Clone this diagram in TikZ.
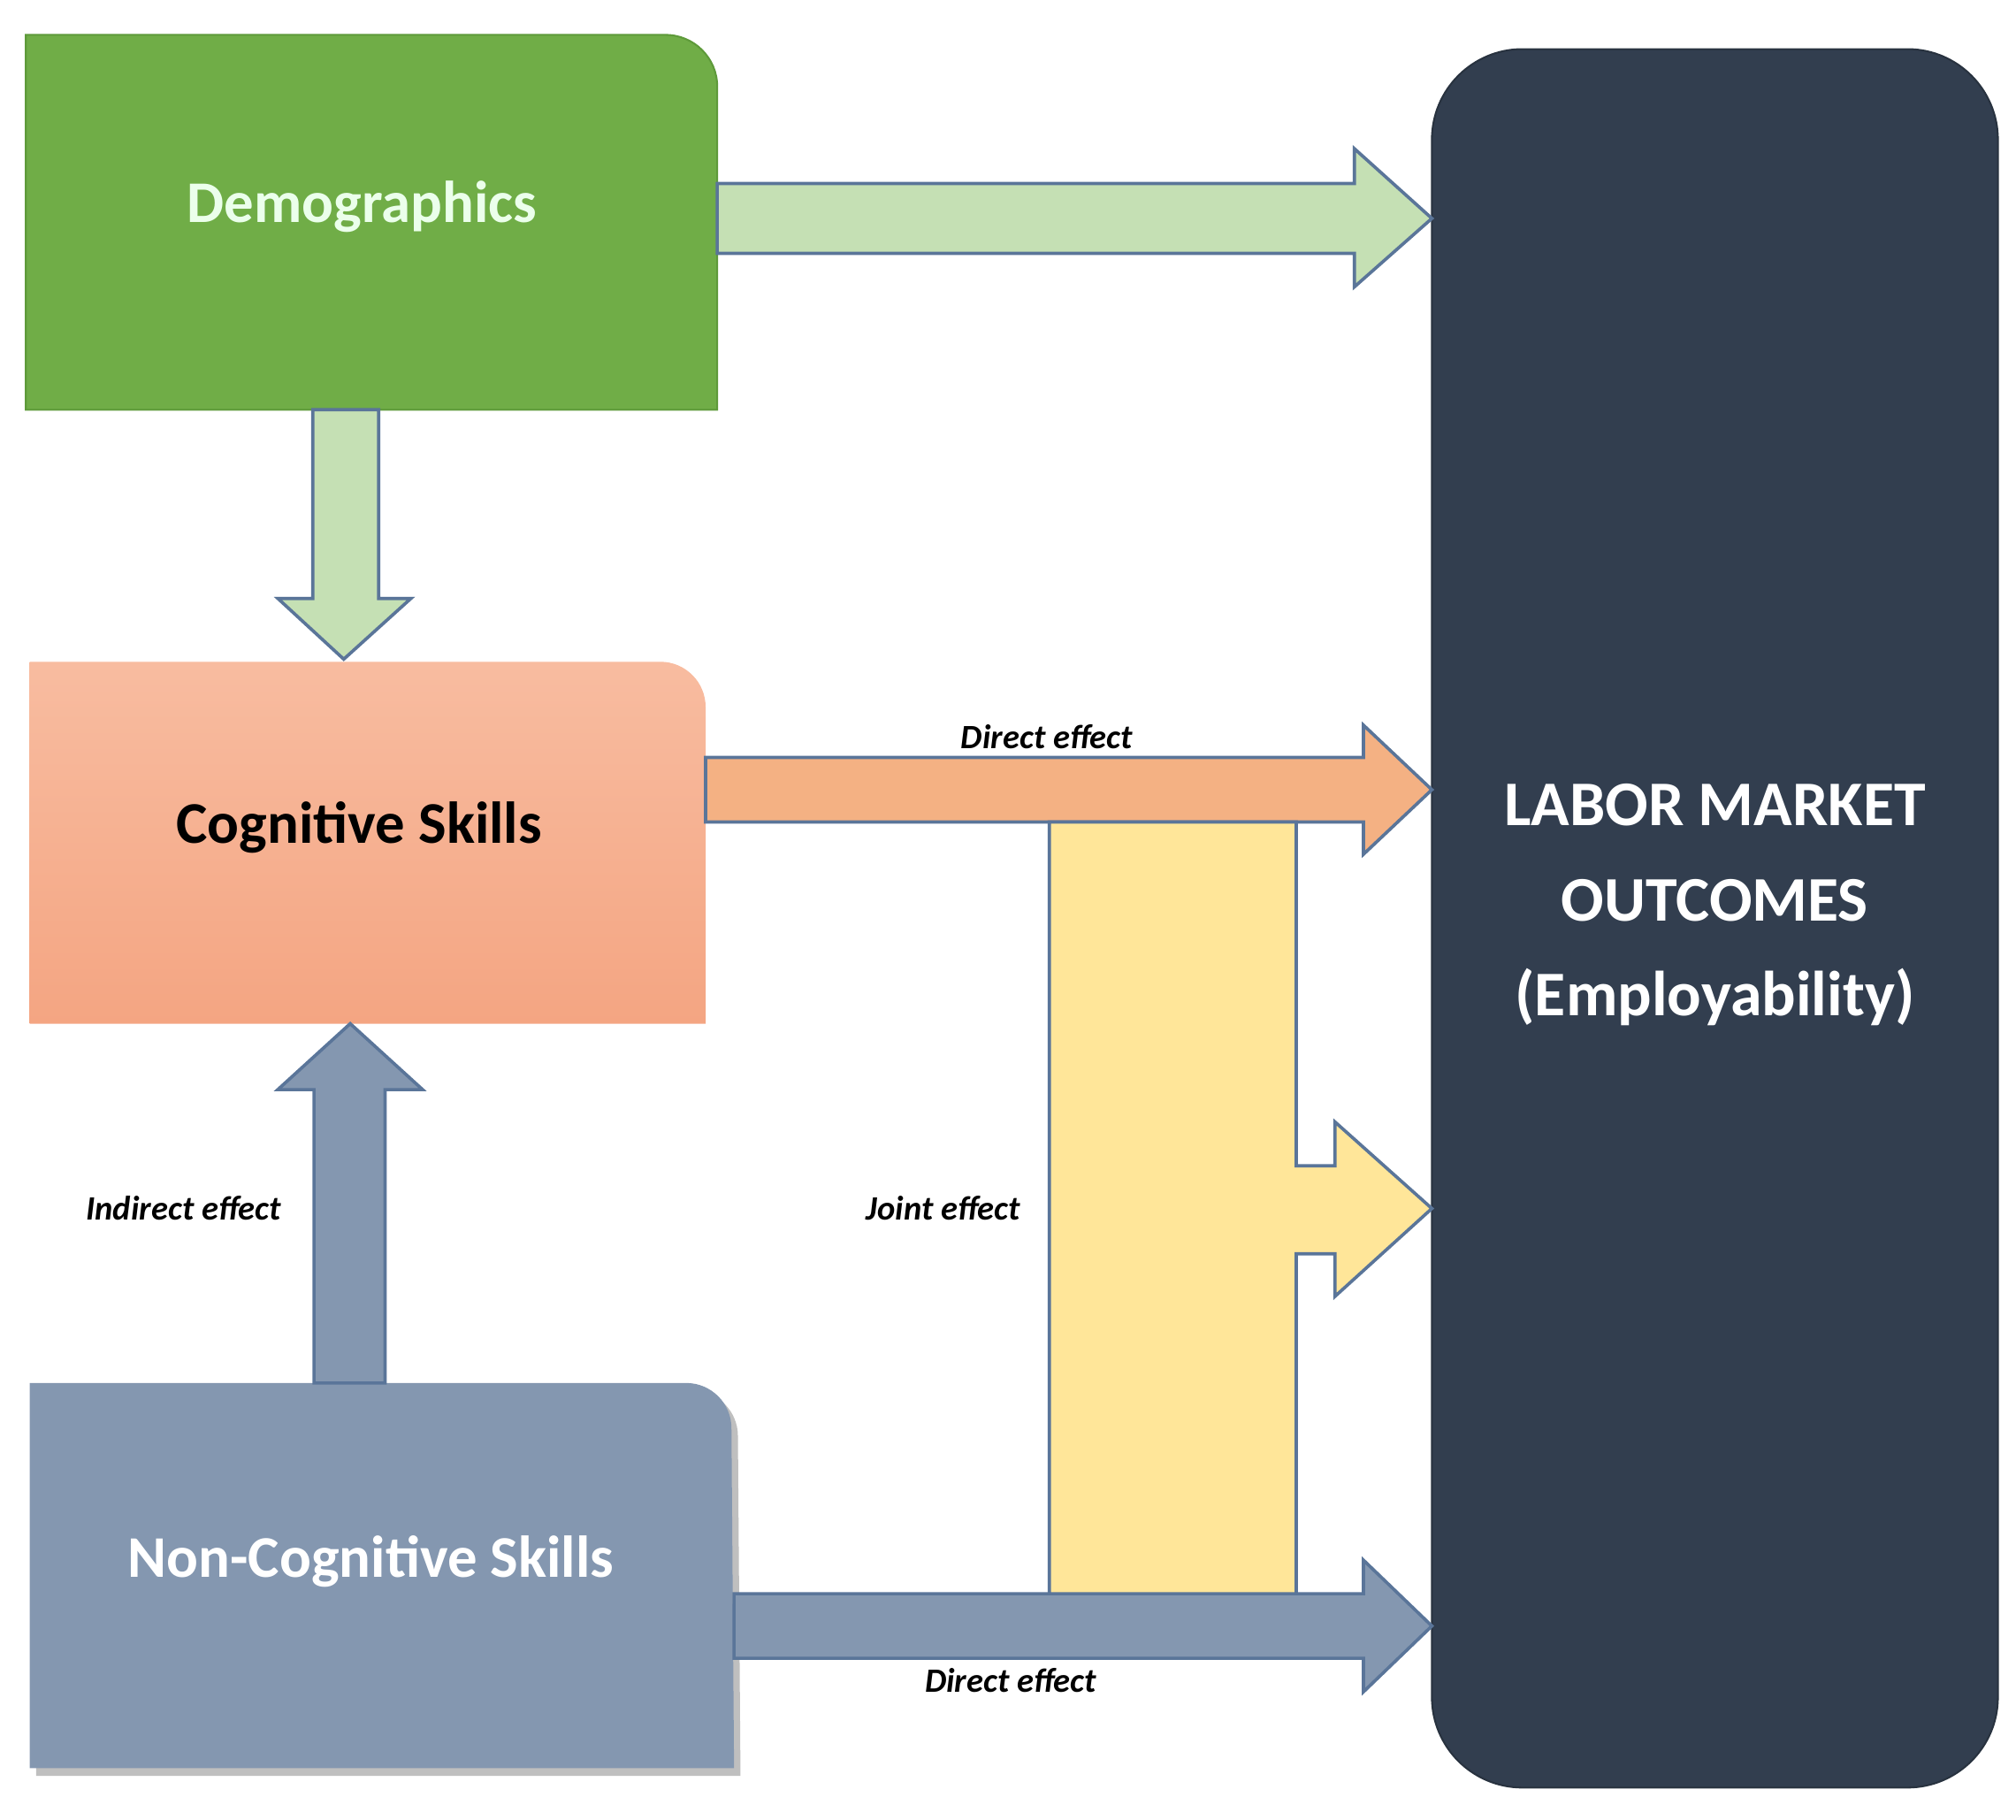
\documentclass[tikz,border=0pt]{standalone}
\usepackage{fontspec}
\setmainfont{Carlito}
\usetikzlibrary{shadows}
\definecolor{demo}{HTML}{70AD47}
\definecolor{demob}{HTML}{5E9A3A}
\definecolor{lgreen}{HTML}{C5E0B4}
\definecolor{cogtop}{HTML}{F8BCA0}
\definecolor{cogbot}{HTML}{F4A582}
\definecolor{cogar}{HTML}{F4B183}
\definecolor{ncog}{HTML}{8497B0}
\definecolor{labor}{HTML}{323E4F}
\definecolor{yel}{HTML}{FFE699}
\definecolor{edge}{HTML}{5A7599}
\begin{document}
\begin{tikzpicture}[x=0.1mm,y=-0.1mm,
  blk/.style={draw=edge,line width=0.25mm},
  lab/.style={font=\fontsize{7.5}{9}\selectfont\bfseries\itshape}]
\useasboundingbox (0,0) rectangle (1560,1408);
% boxes
\fill[demo,draw=demob] (20,27) -- (515,27) arc[start angle=90,end angle=0,radius=4mm] -- (555,317) -- (20,317) -- cycle;
\node[text=white!92!green,font=\fontsize{13}{15}\selectfont\bfseries] (demo) at (280,160) {Demographics};
\shade[top color=cogtop,bottom color=cogbot] (23,512) -- (511,512) arc[start angle=90,end angle=0,radius=3.5mm] -- (546,792) -- (23,792) -- cycle;
\node[font=\fontsize{13}{15}\selectfont\bfseries] (cog) at (278,640) {Cognitive Skills};
\fill[black!25] (28,1076) -- (536,1076) arc[start angle=90,end angle=0,radius=3.5mm] -- (573,1374) -- (28,1374) -- cycle;
\fill[ncog] (23,1070) -- (531,1070) arc[start angle=90,end angle=0,radius=3.5mm] -- (568,1368) -- (23,1368) -- cycle;
\node[text=white,font=\fontsize{13}{15}\selectfont\bfseries] (ncog) at (287,1208) {Non-Cognitive Skills};
\fill[labor,draw=labor!80!black,rounded corners=7mm] (1108,38) rectangle (1546,1383);
\node[text=white,align=center,font=\fontsize{14}{21}\selectfont\bfseries] (lab) at (1327,700) {LABOR MARKET\\OUTCOMES\\(Employability)};
% arrows
\draw[blk,fill=lgreen] (555,142) -- (1048,142) -- (1048,115) -- (1108,169) -- (1048,222) -- (1048,196) -- (555,196) -- cycle;
\draw[blk,fill=lgreen] (242,317) -- (293,317) -- (293,463) -- (318,463) -- (266,510) -- (215,463) -- (242,463) -- cycle;
\draw[blk,fill=cogar] (546,586) -- (1055,586) -- (1055,561) -- (1108,611) -- (1055,661) -- (1055,636) -- (546,636) -- cycle;
\draw[blk,fill=ncog] (568,1233) -- (1055,1233) -- (1055,1207) -- (1108,1258) -- (1055,1309) -- (1055,1283) -- (568,1283) -- cycle;
\draw[blk,fill=yel] (812,636) -- (1003,636) -- (1003,902) -- (1033,902) -- (1033,868) -- (1108,935) -- (1033,1003) -- (1033,970) -- (1003,970) -- (1003,1233) -- (812,1233) -- cycle;
\draw[blk,fill=ncog] (243,1070) -- (243,843) -- (215,843) -- (271,792) -- (327,843) -- (298,843) -- (298,1070) -- cycle;
% labels
\node[lab] (l1) at (810,570) {Direct effect};
\node[lab] (l2) at (730,935) {Joint effect};
\node[lab] (l3) at (142,935) {Indirect effect};
\node[lab] (l4) at (782,1300) {Direct effect};
\end{tikzpicture}
\end{document}
